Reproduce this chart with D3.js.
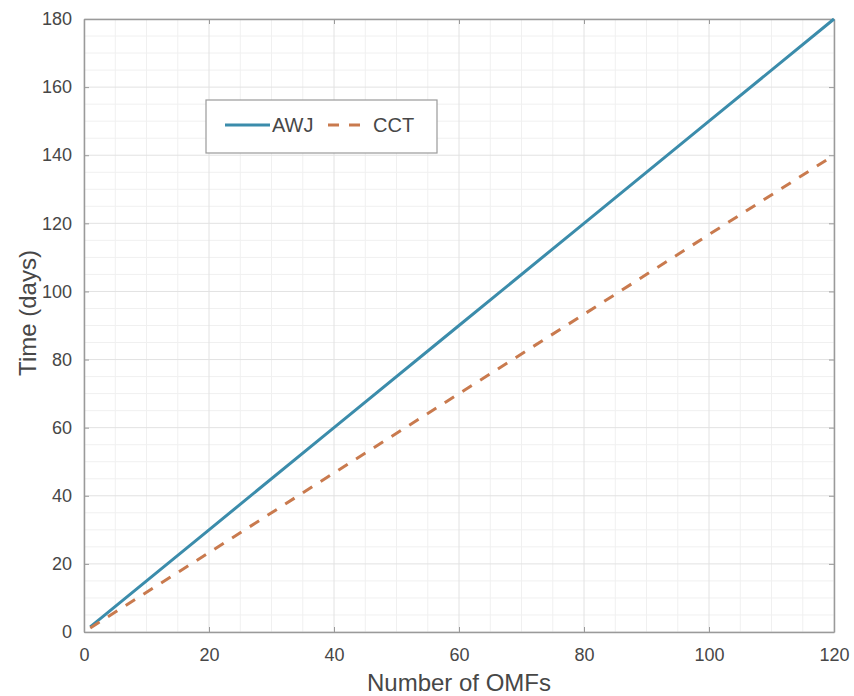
<!DOCTYPE html>
<html>
<head>
<meta charset="utf-8">
<script src="https://cdn.jsdelivr.net/npm/d3@7"></script>
<style>
  body { margin: 0; background: #fff; }
  svg { display: block; font-family: "Liberation Sans", Arial, sans-serif; }
  .tick-label { fill: #474747; font-size: 18px; }
  .axis-title { fill: #474747; font-size: 24px; }
</style>
</head>
<body>
<svg id="chart" width="854" height="696"></svg>
<script>
const omfs = [1, 20, 40, 60, 80, 100, 120];
const awjDays = [1.5, 30, 60, 90, 120, 150, 180];
const cctDays = [1.2, 23.3, 46.7, 70, 93.3, 116.7, 140];
const xTicks = [0, 20, 40, 60, 80, 100, 120];
const yTicks = [0, 20, 40, 60, 80, 100, 120, 140, 160, 180];
const seriesNames = ["AWJ", "CCT"];

const colors = { AWJ: "#3b8cab", CCT: "#c97a4e" };

const margin = { left: 84, right: 20, top: 19, bottom: 64 };
const width = 854, height = 696;
const svg = d3.select("#chart");

const x = d3.scaleLinear().domain([0, 120]).range([margin.left, width - margin.right]);
const y = d3.scaleLinear().domain([0, 180]).range([height - margin.bottom, margin.top]);

// minor grid every 5 units
const grid = svg.append("g");
grid.selectAll("line.xminor")
  .data(d3.range(0, 121, 5).filter((d) => d % 20 !== 0))
  .join("line")
  .attr("x1", (d) => x(d)).attr("x2", (d) => x(d))
  .attr("y1", y(0)).attr("y2", y(180))
  .attr("stroke", "#f0f0f0").attr("stroke-width", 1);
grid.selectAll("line.yminor")
  .data(d3.range(0, 181, 5).filter((d) => d % 20 !== 0))
  .join("line")
  .attr("y1", (d) => y(d)).attr("y2", (d) => y(d))
  .attr("x1", x(0)).attr("x2", x(120))
  .attr("stroke", "#f0f0f0").attr("stroke-width", 1);
grid.selectAll("line.xmajor")
  .data(xTicks)
  .join("line")
  .attr("x1", (d) => x(d)).attr("x2", (d) => x(d))
  .attr("y1", y(0)).attr("y2", y(180))
  .attr("stroke", "#e2e2e2").attr("stroke-width", 1);
grid.selectAll("line.ymajor")
  .data(yTicks)
  .join("line")
  .attr("y1", (d) => y(d)).attr("y2", (d) => y(d))
  .attr("x1", x(0)).attr("x2", x(120))
  .attr("stroke", "#e2e2e2").attr("stroke-width", 1);

// axes: ticks point inward, box on
const axisColor = "#9a9a9a";
const styleAxis = (g) => {
  g.select(".domain").attr("stroke", axisColor).attr("stroke-width", 1.5);
  g.selectAll(".tick line").attr("stroke", axisColor);
  g.selectAll(".tick text").attr("class", "tick-label").attr("fill", null);
};

svg.append("g")
  .attr("transform", `translate(0,${y(0)})`)
  .call(d3.axisBottom(x).tickValues(xTicks).tickSize(-5).tickPadding(16).tickSizeOuter(0))
  .call(styleAxis);
svg.append("g")
  .attr("transform", `translate(0,${y(180)})`)
  .call(d3.axisTop(x).tickValues(xTicks).tickSize(-5).tickFormat("").tickSizeOuter(0))
  .call(styleAxis);
svg.append("g")
  .attr("transform", `translate(${x(0)},0)`)
  .call(d3.axisLeft(y).tickValues(yTicks).tickSize(-5).tickPadding(12).tickSizeOuter(0))
  .call(styleAxis);
svg.append("g")
  .attr("transform", `translate(${x(120)},0)`)
  .call(d3.axisRight(y).tickValues(yTicks).tickSize(-5).tickFormat("").tickSizeOuter(0))
  .call(styleAxis);

svg.selectAll(".tick text").style("font-size", "18px");

// series
const line = d3.line().x((d) => x(d[0])).y((d) => y(d[1]));
svg.append("path")
  .datum(omfs.map((n, i) => [n, awjDays[i]]))
  .attr("d", line)
  .attr("fill", "none")
  .attr("stroke", colors.AWJ)
  .attr("stroke-width", 3);
svg.append("path")
  .datum(omfs.map((n, i) => [n, cctDays[i]]))
  .attr("d", line)
  .attr("fill", "none")
  .attr("stroke", colors.CCT)
  .attr("stroke-width", 3)
  .attr("stroke-dasharray", "11,10");

// axis titles
svg.append("text")
  .attr("class", "axis-title")
  .attr("x", (x(0) + x(120)) / 2)
  .attr("y", 691)
  .attr("text-anchor", "middle")
  .text("Number of OMFs");
svg.append("text")
  .attr("class", "axis-title")
  .attr("transform", "translate(36,313) rotate(-90)")
  .attr("text-anchor", "middle")
  .text("Time (days)");

// legend
const legend = svg.append("g");
legend.append("rect")
  .attr("x", 206).attr("y", 100).attr("width", 231).attr("height", 53)
  .attr("fill", "#fff").attr("stroke", "#9a9a9a").attr("stroke-width", 1.2);
legend.append("line")
  .attr("x1", 225).attr("x2", 270).attr("y1", 125).attr("y2", 125)
  .attr("stroke", colors.AWJ).attr("stroke-width", 3);
legend.append("text")
  .attr("x", 272).attr("y", 132)
  .attr("fill", "#474747").style("font-size", "20px")
  .text(seriesNames[0]);
legend.append("line")
  .attr("x1", 328).attr("x2", 362).attr("y1", 125).attr("y2", 125)
  .attr("stroke", colors.CCT).attr("stroke-width", 3)
  .attr("stroke-dasharray", "11,10");
legend.append("text")
  .attr("x", 373).attr("y", 132)
  .attr("fill", "#474747").style("font-size", "20px")
  .text(seriesNames[1]);
</script>
</body>
</html>
